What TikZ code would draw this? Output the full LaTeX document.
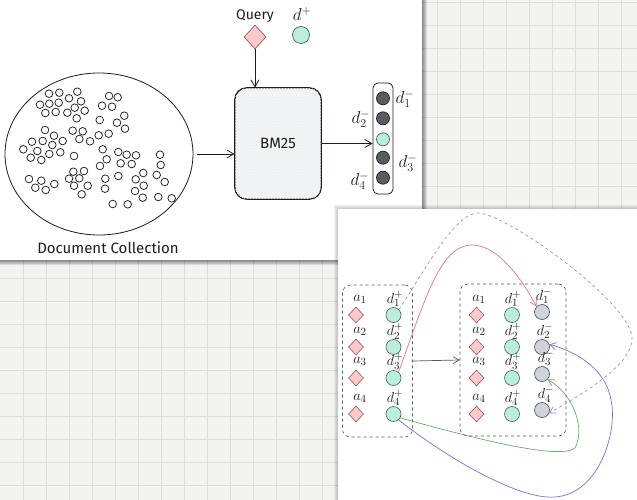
\documentclass[tikz,border=0pt]{standalone}
\usepackage{fontspec}
\setmainfont{Fira Sans}
\usetikzlibrary{arrows.meta,shapes.geometric,patterns}
\definecolor{bg}{RGB}{243,243,241}
\definecolor{gridc}{RGB}{220,220,218}
\definecolor{ink}{RGB}{30,30,30}
\definecolor{pinkf}{RGB}{255,201,201}
\definecolor{pinkd}{RGB}{150,90,90}
\definecolor{tealf}{RGB}{185,238,218}
\definecolor{teald}{RGB}{70,100,90}
\definecolor{darkf}{RGB}{88,93,100}
\definecolor{lgray}{RGB}{206,212,218}
\definecolor{boxf}{RGB}{246,247,248}
\definecolor{hatch}{RGB}{233,235,237}
\definecolor{redc}{RGB}{226,120,120}
\definecolor{purc}{RGB}{160,140,215}
\definecolor{grnc}{RGB}{110,170,110}
\definecolor{bluc}{RGB}{115,115,225}
\tikzset{
  lbl/.style={font=\fontsize{15}{16}\selectfont, inner sep=0pt, text=ink},
  biglbl/.style={font=\fontsize{15}{16}\selectfont, inner sep=0pt, text=ink},
  toplbl/.style={font=\fontsize{17}{18}\selectfont, inner sep=0pt, text=ink},
  dia/.style={diamond, draw=pinkd, fill=pinkf, inner sep=0pt, minimum width=15pt, minimum height=16pt, line width=0.6pt},
  tealc/.style={circle, draw=teald, fill=tealf, inner sep=0pt, minimum size=15pt, line width=0.6pt},
  grayc/.style={circle, draw=gray!60!black, fill=lgray, inner sep=0pt, minimum size=15pt, line width=0.6pt},
  darkc/.style={circle, draw=ink, fill=darkf, inner sep=0pt, minimum size=13pt, line width=0.7pt},
  dashbox/.style={draw=gray!70!black, dashed, rounded corners=8pt, line width=0.6pt, inner sep=0pt},
  arr/.style={draw=ink, line width=0.8pt, -{Straight Barb[length=7pt,width=8pt]}},
  carr/.style={line width=0.7pt, -{Straight Barb[length=6pt,width=7pt]}},
  doc/.style={draw=ink, line width=0.75pt}
}
\begin{document}
\begin{tikzpicture}[x=1pt,y=-1pt]
\useasboundingbox (0,0) rectangle (637,500);
\fill[bg] (0,0) rectangle (637,500);
\foreach \x in {23,46,...,630} \draw[gridc, line width=0.8pt] (\x,0) -- (\x,500);
\foreach \y in {2,25,...,499} \draw[gridc, line width=0.8pt] (0,\y) -- (637,\y);
% top panel shadow and panel
\foreach \i in {1,...,6} \fill[black, opacity=0.10] (-6,-6) rectangle (421+\i,259+\i);
\fill[white] (-6,-6) rectangle (422,260);
% bottom panel shadow and panel
\foreach \i in {1,...,4} \fill[black, opacity=0.05] (338-\i,209-\i) rectangle (645,505);
\fill[white] (338,209) rectangle (645,505);

% ---------- top panel ----------
\node[ellipse, draw=ink, line width=0.8pt, minimum width=188pt, minimum height=162pt, inner sep=0pt] (coll) at (99,154) {};
\foreach \p in {(49,93.7),(59.3,92.7),(77.3,91.7),(69,98.3),(81,101.3),(40,104.7),(49.3,103.7),(58.7,102.7),(45.3,113),(55.7,112),(67.3,112.7),(74.7,107.7),(84.7,110.7),(76.7,118.3),(109,96),(117.7,97.3),(102,105.7),(112,106.7),(124.3,115.7),(99.7,120),(117,122.7),(125,128.7),(45,130),(54,135.7),(72.7,130.7),(82.7,131.3),(32,141.7),(42.7,141),(52.3,145),(62.7,141),(79.3,139),(90,141.3),(98.7,135.3),(108.7,133.7),(23.3,149.3),(37.3,151),(49.3,154),(60.3,152.3),(30.7,157.7),(41.3,160),(74,156),(102.7,149.3),(106.7,159.3),(100,166),(118.3,152),(126.7,154.7),(136,155.3),(120.7,163.3),(131.7,164),(29,179),(41.3,180.7),(54.3,184),(35.3,187.7),(45.7,190),(73.3,171.7),(84,171),(69,178.7),(79.3,178.3),(87.7,185.7),(74,185.7),(81.7,194.3),(105.3,178.7),(118.3,176),(105,188.7),(112.7,204),(127.7,204.3),(160,154.7),(160.7,165),(156.7,175),(164.7,182),(143.3,173),(135.7,179.3),(143.7,185.7),(135,191),(142.7,197.7),(158.3,197),(171.7,198.3)}
  \draw[doc] \p circle (3.8pt);
\node[biglbl] (colllbl) at (108,248) {Document Collection};

\node[draw=ink, fill=boxf, line width=0.8pt, rounded corners=12pt, minimum width=86pt, minimum height=111pt, inner sep=0pt] (bm25) at (278,143.5) {};
\fill[pattern=north east lines, pattern color=hatch, rounded corners=12pt] (bm25.south west) rectangle (bm25.north east);
\draw[ink, line width=0.8pt, rounded corners=12pt] (bm25.south west) rectangle (bm25.north east);
\node[biglbl] (bmlbl) at (bm25) {BM25};

\node[diamond, draw=pinkd, fill=pinkf, inner sep=0pt, minimum width=22pt, minimum height=24pt, line width=0.7pt] (query) at (255,37) {};
\node[font=\fontsize{14}{15}\selectfont, text=ink, inner sep=0pt] (qlbl) at (255,16) {Query};
\node[circle, draw=teald, fill=tealf, inner sep=0pt, minimum size=17pt, line width=0.7pt] (dplus) at (301,35) {};
\node[toplbl] (dpluslbl) at (302,14) {$d^{+}$};

\node[draw=ink, line width=0.8pt, rounded corners=5pt, minimum width=20pt, minimum height=111pt, inner sep=0pt] (list) at (383,138.5) {};
\node[darkc] (t1) at (383,98.3) {};
\node[darkc] (t2) at (383,118.3) {};
\node[darkc, draw=teald, fill=tealf] (t3) at (383,139.3) {};
\node[darkc] (t4) at (383,157.7) {};
\node[darkc] (t5) at (383,177.7) {};
\node[toplbl] (t1l) at (405,99) {$d^{-}_{1}$};
\node[toplbl] (t2l) at (361,119) {$d^{-}_{2}$};
\node[toplbl] (t4l) at (408,163) {$d^{-}_{3}$};
\node[toplbl] (t5l) at (360,181) {$d^{-}_{4}$};

\draw[arr] (query) -- (query |- bm25.north);
\draw[arr] ([xshift=4pt]coll.east) -- (bm25.west |- coll.east);
\draw[arr] (bm25.east) -- (list.west |- bm25.east);

% ---------- bottom panel ----------
\node[dashbox, minimum width=70pt, minimum height=152pt] (lg) at (377.5,361) {};
\node[dashbox, minimum width=106pt, minimum height=152pt] (rg) at (513,360) {};

\foreach \i/\y/\ly in {1/315/299,2/347/331.5,3/378/361.5,4/414/398}{
  \node[dia] (la\i) at (356,\y) {};
  \node[tealc] (lp\i) at (393.5,\y) {};
  \node[lbl] (la\i l) at (360,\ly) {$a_{\i}$};
  \node[lbl] (lp\i l) at (395,\ly) {$d^{+}_{\i}$};
  \node[dia] (ra\i) at (476.5,\y) {};
  \node[tealc] (rp\i) at (512,\y) {};
  \node[lbl] (ra\i l) at (479,\ly) {$a_{\i}$};
  \node[lbl] (rp\i l) at (513,\ly) {$d^{+}_{\i}$};
}
\node[grayc] (dm1) at (542,312) {};
\node[grayc] (dm2) at (542,347) {};
\node[grayc] (dm3) at (542,374) {};
\node[grayc] (dm4) at (542,410) {};
\node[lbl] (dm1l) at (544,296) {$d^{-}_{1}$};
\node[lbl] (dm2l) at (545,331) {$d^{-}_{2}$};
\node[lbl] (dm3l) at (546,358) {$d^{-}_{3}$};
\node[lbl] (dm4l) at (546,394.5) {$d^{-}_{4}$};

\draw[carr, draw=gray!70!black] (lg.east) -- (rg.west);

\draw[carr, draw=redc] (lp3.50) .. controls (425,300) and (440,245) .. (472,245)
   .. controls (500,245) and (525,285) .. (dm1.135);
\draw[carr, draw=purc, dashed] (lp1.45) .. controls (425,270) and (455,213) .. (478,213)
   .. controls (505,213) and (628,300) .. (632,337)
   .. controls (634,365) and (580,395) .. (dm4.-25);
\draw[carr, draw=grnc] (lp4.-30) .. controls (480,440) and (560,460) .. (575,448)
   .. controls (585,430) and (575,395) .. (dm3.-45);
\draw[carr, draw=bluc] (lp4.-50) .. controls (450,460) and (520,500) .. (555,497)
   .. controls (600,494) and (618,430) .. (611,400)
   .. controls (605,365) and (570,350) .. (dm2.20);
\end{tikzpicture}
\end{document}
